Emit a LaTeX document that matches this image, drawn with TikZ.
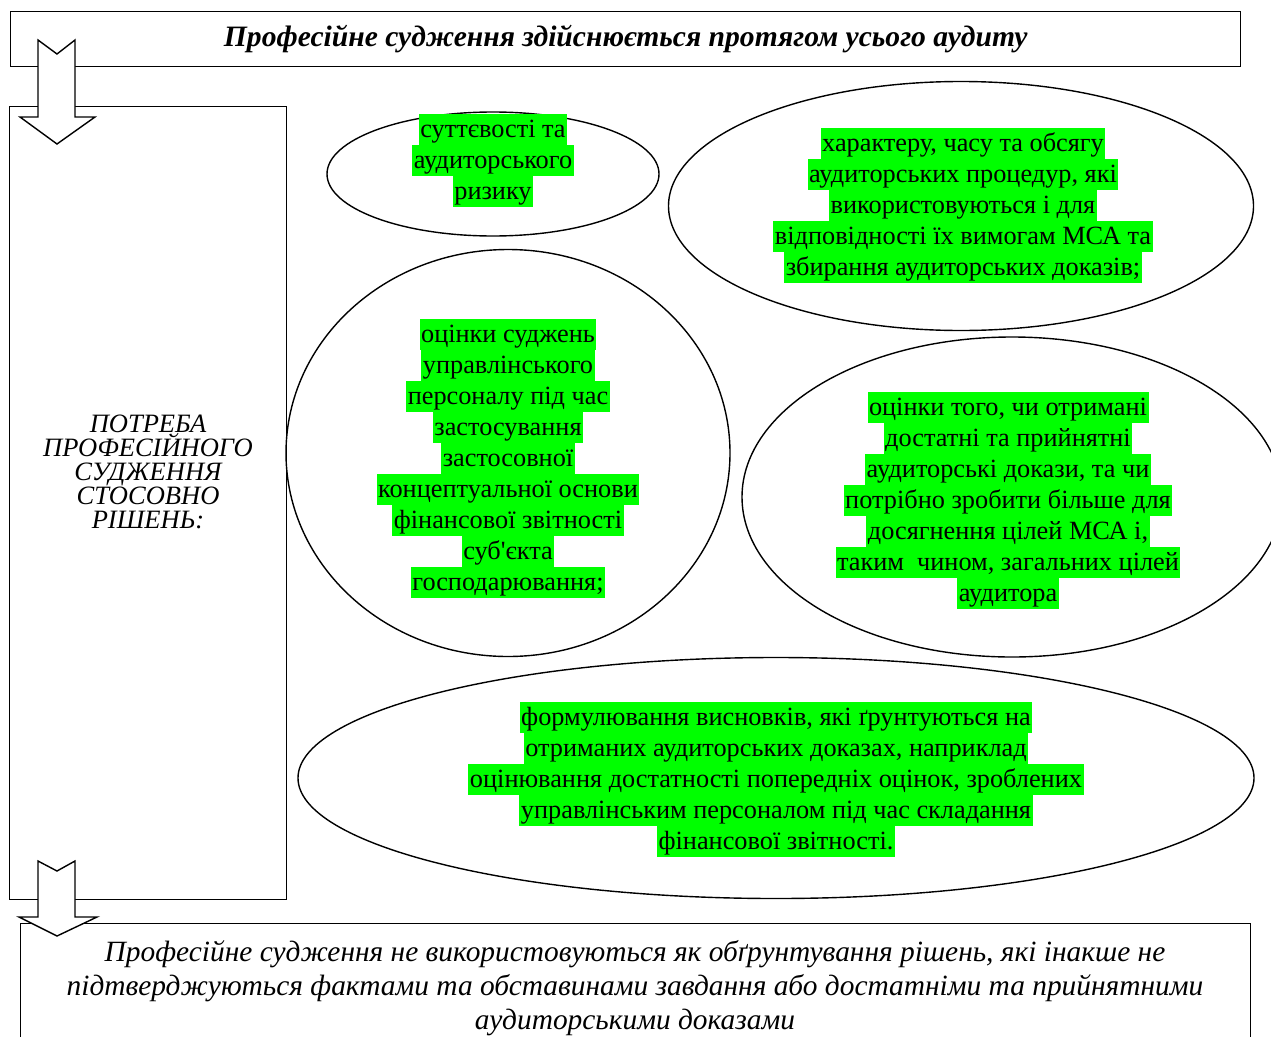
\documentclass[tikz,border=0pt]{standalone}
\usepackage{fontspec}
\setmainfont{Liberation Serif}[Ligatures=TeXOff]
\usetikzlibrary{shapes.geometric}
\definecolor{hlgreen}{RGB}{0,255,0}
\newcommand{\hlline}[1]{{\setlength{\fboxsep}{0pt}\colorbox{hlgreen}{\hspace{1.5pt}\rule[-7pt]{0pt}{31pt}#1\hspace{1.5pt}}}}
\begin{document}
\begin{tikzpicture}[x=1pt,y=-1pt,
  oval/.style={draw, line width=1.4pt, ellipse, inner sep=0pt},
  hltext/.style={align=center, font=\fontsize{26.3}{31}\selectfont, inner sep=0pt},
  frame/.style={draw, line width=1.4pt, inner sep=0pt},
  blockarrow/.style={draw, fill=white, line width=1.4pt, line join=miter}]
\useasboundingbox (0,0) rectangle (1271,1036);
\fill[white] (0,0) rectangle (1271,1036);

% frames
\node[frame, anchor=north west, minimum width=1230pt, minimum height=55pt,
      font=\fontsize{29.6}{32}\selectfont\bfseries\itshape] (top) at (10,11)
      {Професійне судження здійснюється протягом усього аудиту};
\node[frame, anchor=north west, minimum width=277pt, minimum height=793pt] (left) at (9,106) {};
\node[align=center, inner sep=0pt, font=\fontsize{26.5}{24}\selectfont\itshape] (lefttext) at (148,472)
      {ПОТРЕБА\\ПРОФЕСІЙНОГО\\СУДЖЕННЯ\\СТОСОВНО\\РІШЕНЬ:};
\node[frame, anchor=north west, minimum width=1230pt, minimum height=150pt] (bottom) at (20,923) {};
\node[align=center, inner sep=0pt, font=\fontsize{29.4}{34}\selectfont\itshape] (bottomtext) at (635,988)
      {Професійне судження не використовуються як обґрунтування рішень, які інакше не\\
       підтверджуються фактами та обставинами завдання або достатніми та прийнятними\\
       аудиторськими доказами};

% ellipses
\node[oval, minimum width=332pt, minimum height=124pt] (e1) at (493,174) {};
\node[oval, minimum width=585pt, minimum height=249pt] (e2) at (961,206) {};
\node[oval, minimum width=444pt, minimum height=407pt] (e3) at (508,453) {};
\node[oval, minimum width=540pt, minimum height=320pt] (e4) at (1012,497) {};
\node[oval, minimum width=956pt, minimum height=241pt] (e5) at (776,778) {};

\node[hltext] (t1) at (493,160) {\hlline{суттєвості та}\\\hlline{аудиторського}\\\hlline{ризику}};
\node[hltext] (t2) at (963,205) {\hlline{характеру, часу та обсягу}\\\hlline{аудиторських процедур, які}\\\hlline{використовуються і для}\\\hlline{відповідності їх вимогам МСА та}\\\hlline{збирання аудиторських доказів;}};
\node[hltext] (t3) at (508,458) {\hlline{оцінки суджень}\\\hlline{управлінського}\\\hlline{персоналу під час}\\\hlline{застосування}\\\hlline{застосовної}\\\hlline{концептуальної основи}\\\hlline{фінансової звітності}\\\hlline{суб'єкта}\\\hlline{господарювання;}};
\node[hltext] (t4) at (1008,500) {\hlline{оцінки того, чи отримані}\\\hlline{достатні та прийнятні}\\\hlline{аудиторські докази, та чи}\\\hlline{потрібно зробити більше для}\\\hlline{досягнення цілей МСА і,}\\\hlline{таким\ \ чином, загальних цілей}\\\hlline{аудитора}};
\node[hltext] (t5) at (776,779) {\hlline{формулювання висновків, які ґрунтуються на}\\\hlline{отриманих аудиторських доказах, наприклад}\\\hlline{оцінювання достатності попередніх оцінок, зроблених}\\\hlline{управлінським персоналом під час складання}\\\hlline{фінансової звітності.}};

% block arrows
\draw[blockarrow] (38,40) -- (57,54) -- (75,40) -- (75,117) -- (95,117) -- (57,144) -- (20,117) -- (38,117) -- cycle;
\draw[blockarrow] (38,861) -- (57,871) -- (75,861) -- (75,917) -- (97,917) -- (57,936) -- (19,917) -- (38,917) -- cycle;
\end{tikzpicture}
\end{document}
